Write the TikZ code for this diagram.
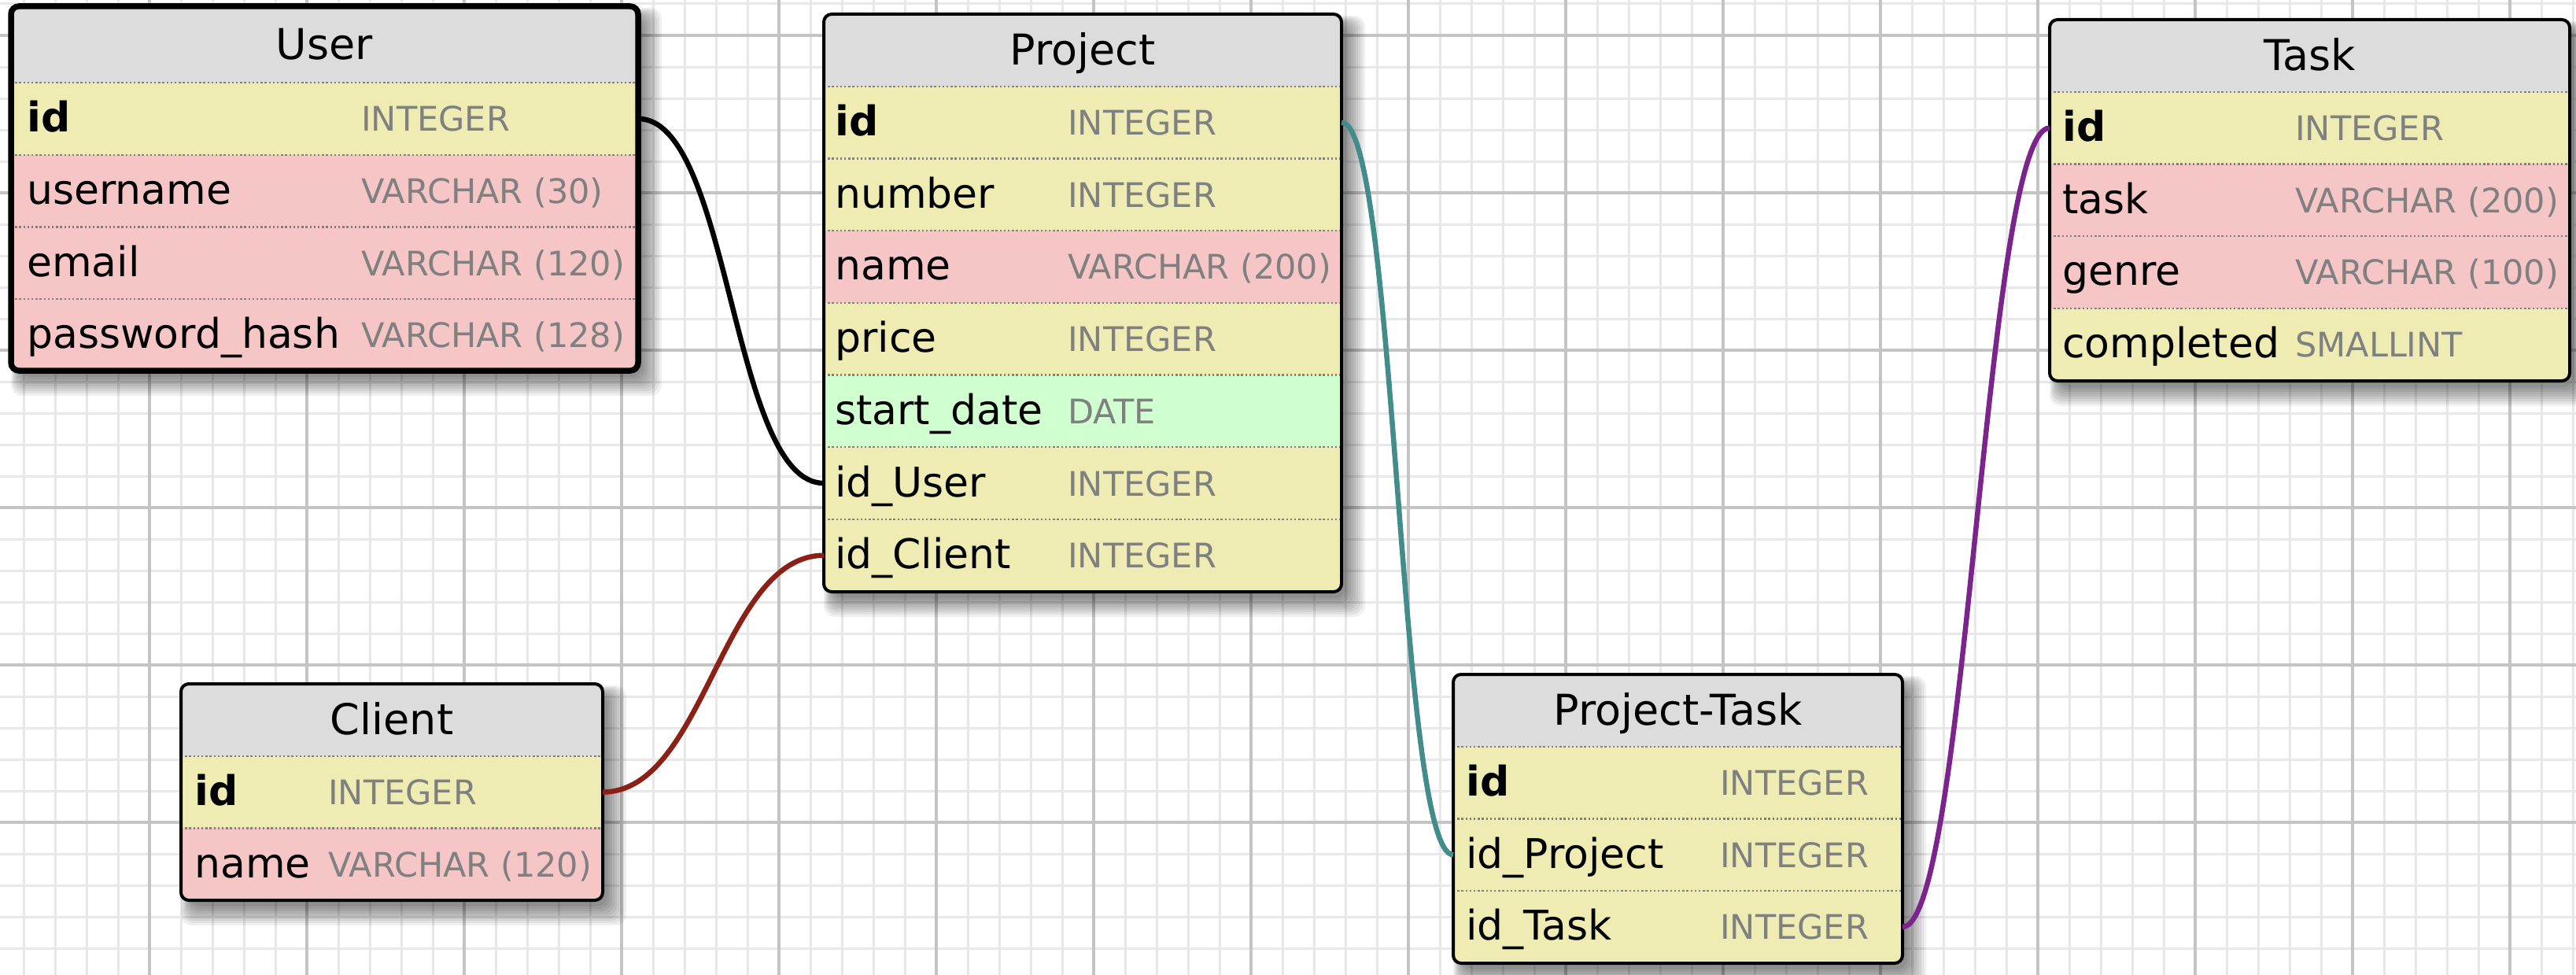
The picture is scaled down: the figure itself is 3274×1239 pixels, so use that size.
\documentclass[tikz,border=0pt]{standalone}
\usepackage{fontspec}
\setmainfont{DejaVu Sans}
\usetikzlibrary{calc}
\definecolor{gridminor}{RGB}{232,232,232}
\definecolor{gridmajor}{RGB}{196,196,196}
\definecolor{hdrgray}{RGB}{220,220,220}
\definecolor{rowyellow}{RGB}{238,236,178}
\definecolor{rowpink}{RGB}{246,198,198}
\definecolor{rowgreen}{RGB}{208,255,208}
\definecolor{typegray}{RGB}{128,128,128}
\definecolor{sepgray}{RGB}{128,128,128}
\definecolor{linkred}{RGB}{139,32,22}
\definecolor{linkteal}{RGB}{66,140,140}
\definecolor{linkpurple}{RGB}{122,36,140}
\tikzset{
  hdcell/.style={rectangle, inner sep=0pt, outer sep=0pt, fill=hdrgray},
  rowcell/.style={rectangle, inner sep=0pt, outer sep=0pt, minimum height=91.7pt},
  hdtxt/.style={inner sep=0pt, font=\fontsize{54}{64}\selectfont},
  fldtxt/.style={inner sep=0pt, font=\fontsize{52}{62}\selectfont},
  typtxt/.style={inner sep=0pt, text=typegray, font=\fontsize{43}{52}\selectfont},
  sepline/.style={sepgray, line width=2.4pt, dash pattern=on 2.4pt off 2.8pt},
  tblborder/.style={draw=black, line width=4pt, rounded corners=10pt},
  conn/.style={line width=6.5pt},
  gminor/.style={gridminor, line width=3pt},
  gmajor/.style={gridmajor, line width=3.5pt},
}
% #1 name, #2 left, #3 top, #4 width, #5 height, #6 title
\newcommand{\ERhead}[6]{%
  \node[hdcell, minimum width=#4pt, minimum height=#5pt, anchor=north west] (#1) at (#2,#3) {};
  \node[hdtxt, anchor=base] (#1-t) at ([yshift=-19pt]#1.center) {#6};
}
% #1 name, #2 node above, #3 width, #4 fill, #5 field, #6 type, #7 field offset, #8 type offset
\newcommand{\ERrow}[8]{%
  \node[rowcell, minimum width=#3pt, fill=#4, anchor=north west] (#1) at (#2.south west) {};
  \draw[sepline] (#1.north west) -- (#1.north east);
  \node[fldtxt, anchor=base west] (#1-f) at ([xshift=#7pt, yshift=-17pt]#1.west) {#5};
  \node[typtxt, anchor=base west] (#1-y) at ([xshift=#8pt, yshift=-16pt]#1.west) {#6};
}
% #1 left, #2 top, #3 right, #4 bottom
\newcommand{\ERshadow}[4]{%
  \foreach \s in {0,3,6,9,12,15,18,21,24}{%
    \fill[black, opacity=0.06, rounded corners=14pt] ({#1+12-\s/2},{#2+14-\s/2}) rectangle ({#3+6+\s},{#4+8+\s});
  }%
}
\begin{document}
\begin{tikzpicture}[x=1pt, y=-1pt]
\useasboundingbox (0,0) rectangle (3274,1239);
\fill[white] (0,0) rectangle (3274,1239);
% grid
\foreach \x in {30,70,...,3270} \draw[gminor] (\x,0) -- (\x,1239);
\foreach \y in {5,45,...,1205} \draw[gminor] (0,\y) -- (3274,\y);
\foreach \x in {190,390,...,3190} \draw[gmajor] (\x,0) -- (\x,1239);
\foreach \y in {45,245,...,1045} \draw[gmajor] (0,\y) -- (3274,\y);
% shadows
\ERshadow{14}{8}{811}{471}
\ERshadow{1047}{18}{1705}{752}
\ERshadow{2605}{25}{3266}{484}
\ERshadow{230}{869}{766}{1144}
\ERshadow{1847}{857}{2418}{1224}

% ---------- tables ----------
% User
\begin{scope}
\clip[rounded corners=10pt] (14,8) rectangle (811,471);
\ERhead{user}{14}{8}{797}{97}{User}
\ERrow{user-id}{user}{797}{rowyellow}{\bfseries id}{INTEGER}{20}{445}
\ERrow{user-un}{user-id}{797}{rowpink}{username}{VARCHAR (30)}{20}{445}
\ERrow{user-em}{user-un}{797}{rowpink}{email}{VARCHAR (120)}{20}{445}
\ERrow{user-pw}{user-em}{797}{rowpink}{password\_hash}{VARCHAR (128)}{20}{445}
\end{scope}
\draw[tblborder, line width=7.5pt] (14,8) rectangle (811,471);

% Project
\begin{scope}
\clip[rounded corners=10pt] (1047,18) rectangle (1705,752);
\ERhead{proj}{1047}{18}{658}{91.7}{Project}
\ERrow{proj-id}{proj}{658}{rowyellow}{\bfseries id}{INTEGER}{14}{310}
\ERrow{proj-num}{proj-id}{658}{rowyellow}{number}{INTEGER}{14}{310}
\ERrow{proj-name}{proj-num}{658}{rowpink}{name}{VARCHAR (200)}{14}{310}
\ERrow{proj-price}{proj-name}{658}{rowyellow}{price}{INTEGER}{14}{310}
\ERrow{proj-sd}{proj-price}{658}{rowgreen}{start\_date}{DATE}{14}{310}
\ERrow{proj-iduser}{proj-sd}{658}{rowyellow}{id\_User}{INTEGER}{14}{310}
\ERrow{proj-idclient}{proj-iduser}{658}{rowyellow}{id\_Client}{INTEGER}{14}{310}
\end{scope}
\draw[tblborder] (1047,18) rectangle (1705,752);

% Task
\begin{scope}
\clip[rounded corners=10pt] (2605,25) rectangle (3266,484);
\ERhead{task}{2605}{25}{661}{91.7}{Task}
\ERrow{task-id}{task}{661}{rowyellow}{\bfseries id}{INTEGER}{16}{312}
\ERrow{task-task}{task-id}{661}{rowpink}{task}{VARCHAR (200)}{16}{312}
\ERrow{task-genre}{task-task}{661}{rowpink}{genre}{VARCHAR (100)}{16}{312}
\ERrow{task-comp}{task-genre}{661}{rowyellow}{completed}{SMALLINT}{16}{312}
\end{scope}
\draw[tblborder] (2605,25) rectangle (3266,484);

% Client
\begin{scope}
\clip[rounded corners=10pt] (230,869) rectangle (766,1144);
\ERhead{cli}{230}{869}{536}{91.7}{Client}
\ERrow{cli-id}{cli}{536}{rowyellow}{\bfseries id}{INTEGER}{17}{187}
\ERrow{cli-name}{cli-id}{536}{rowpink}{name}{VARCHAR (120)}{17}{187}
\end{scope}
\draw[tblborder] (230,869) rectangle (766,1144);

% Project-Task
\begin{scope}
\clip[rounded corners=10pt] (1847,857) rectangle (2418,1224);
\ERhead{pt}{1847}{857}{571}{91.7}{Project-Task}
\ERrow{pt-id}{pt}{571}{rowyellow}{\bfseries id}{INTEGER}{16}{339}
\ERrow{pt-idproject}{pt-id}{571}{rowyellow}{id\_Project}{INTEGER}{16}{339}
\ERrow{pt-idtask}{pt-idproject}{571}{rowyellow}{id\_Task}{INTEGER}{16}{339}
\end{scope}
\draw[tblborder] (1847,857) rectangle (2418,1224);

% ---------- connectors ----------
\draw[conn, black] (user-id.east) .. controls +(118,0) and +(-118,0) .. (proj-iduser.west);
\draw[conn, linkred] (cli-id.east) .. controls +(130,0) and +(-130,0) .. (proj-idclient.west);
\draw[conn, linkteal] (proj-id.east) .. controls +(70,0) and +(-70,0) .. (pt-idproject.west);
\draw[conn, linkpurple] (task-id.west) .. controls +(-82,0) and +(82,0) .. (pt-idtask.east);
\end{tikzpicture}
\end{document}
